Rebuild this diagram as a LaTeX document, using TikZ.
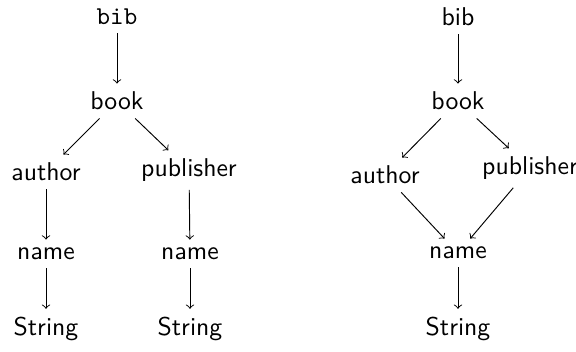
\documentclass[tikz,border=0pt]{standalone}
\begin{document}
\begin{tikzpicture}[x=0.4237pt,y=-0.4237pt,
  lbl/.style={font=\fontsize{10.9}{13}\sffamily},
  edge/.style={->}]
\useasboundingbox (0,0) rectangle (576,351);
% left tree
\node[font=\fontsize{10.9}{13}\ttfamily] (lbib) at (117,17) {bib};
\node[lbl] (lbook) at (117,101) {book};
\node[lbl] (lauthor) at (46,172) {author};
\node[lbl] (lpub) at (189,170) {publisher};
\node[lbl] (lname1) at (46,254) {name};
\node[lbl] (lname2) at (190,254) {name};
\node[lbl] (lstr1) at (46,329) {String};
\node[lbl] (lstr2) at (190,329) {String};
\draw[edge] (lbib) -- (lbook);
\draw[edge] (lbook) -- (lauthor);
\draw[edge] (lbook) -- (lpub);
\draw[edge] (lauthor) -- (lname1);
\draw[edge] (lpub) -- (lname2);
\draw[edge] (lname1) -- (lstr1);
\draw[edge] (lname2) -- (lstr2);
% right tree
\node[lbl] (rbib) at (458,17) {bib};
\node[lbl] (rbook) at (458,101) {book};
\node[lbl] (rauthor) at (385,175) {author};
\node[lbl] (rpub) at (530,168) {publisher};
\node[lbl] (rname) at (458,253) {name};
\node[lbl] (rstr) at (458,329) {String};
\draw[edge] (rbib) -- (rbook);
\draw[edge] (rbook) -- (rauthor);
\draw[edge] (rbook) -- (rpub);
\draw[edge] (rauthor) -- (rname);
\draw[edge] (rpub) -- (rname);
\draw[edge] (rname) -- (rstr);
\end{tikzpicture}
\end{document}
